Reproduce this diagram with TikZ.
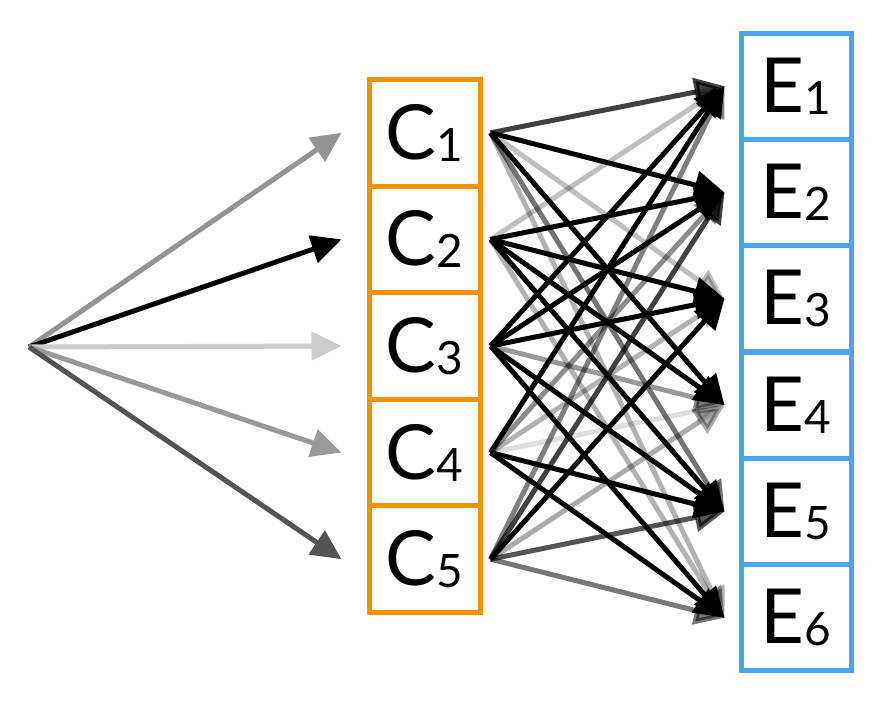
\documentclass[tikz,border=0pt]{standalone}
\usepackage{fontspec}
\setmainfont{Lato}
\usetikzlibrary{arrows.meta}
\definecolor{cor}{RGB}{242,146,0}
\definecolor{cbl}{RGB}{77,163,245}
\newcommand{\lbl}[2]{#1\raisebox{-2pt}{\fontsize{46}{46}\selectfont #2}}
\begin{document}
\begin{tikzpicture}[x=1pt,y=-1pt,
  cbox/.style={draw=cor,line width=5pt,minimum width=111pt,minimum height=106.6pt,inner sep=0pt,font=\fontsize{76}{76}\selectfont},
  ebox/.style={draw=cbl,line width=5pt,minimum width=110pt,minimum height=106.33pt,inner sep=0pt,font=\fontsize{76}{76}\selectfont},
  arr/.style={line width=5pt,-{Triangle[length=30pt,width=28pt]}}]
\useasboundingbox (0,0) rectangle (888,706);
\foreach \i/\y in {1/132.8,2/239.4,3/346,4/452.6,5/559.2}
  \node[cbox] (c\i) at (424.5,\y) {\raisebox{-4pt}{\lbl{C}{\i}}};
\foreach \j/\y in {1/86.2,2/192.5,3/298.8,4/405.2,5/511.5,6/617.8}
  \node[ebox] (e\j) at (796,\y) {\raisebox{-4pt}{\lbl{E}{\j}}};
\coordinate (s) at (29,347);
\foreach \i/\o in {1/42,2/100,3/20,4/40,5/67}
  \draw[arr,black!\o] (s) -- ([xshift=-25pt]c\i.west);
\foreach \i/\j/\o in {
  1/1/.75,1/2/1,1/3/.25,1/4/1,1/5/.55,1/6/.3,
  2/1/.25,2/2/1,2/3/1,2/4/1,2/5/1,2/6/.3,
  3/1/1,3/2/1,3/3/1,3/4/.4,3/5/1,3/6/1,
  4/1/1,4/2/.45,4/3/.3,4/4/.13,4/5/1,4/6/1,
  5/1/.5,5/2/.75,5/3/1,5/4/.33,5/5/.67,5/6/.53}
  \draw[arr,opacity=\o] ([xshift=8pt]c\i.east) -- ([xshift=-14pt]e\j.west);
\end{tikzpicture}
\end{document}
